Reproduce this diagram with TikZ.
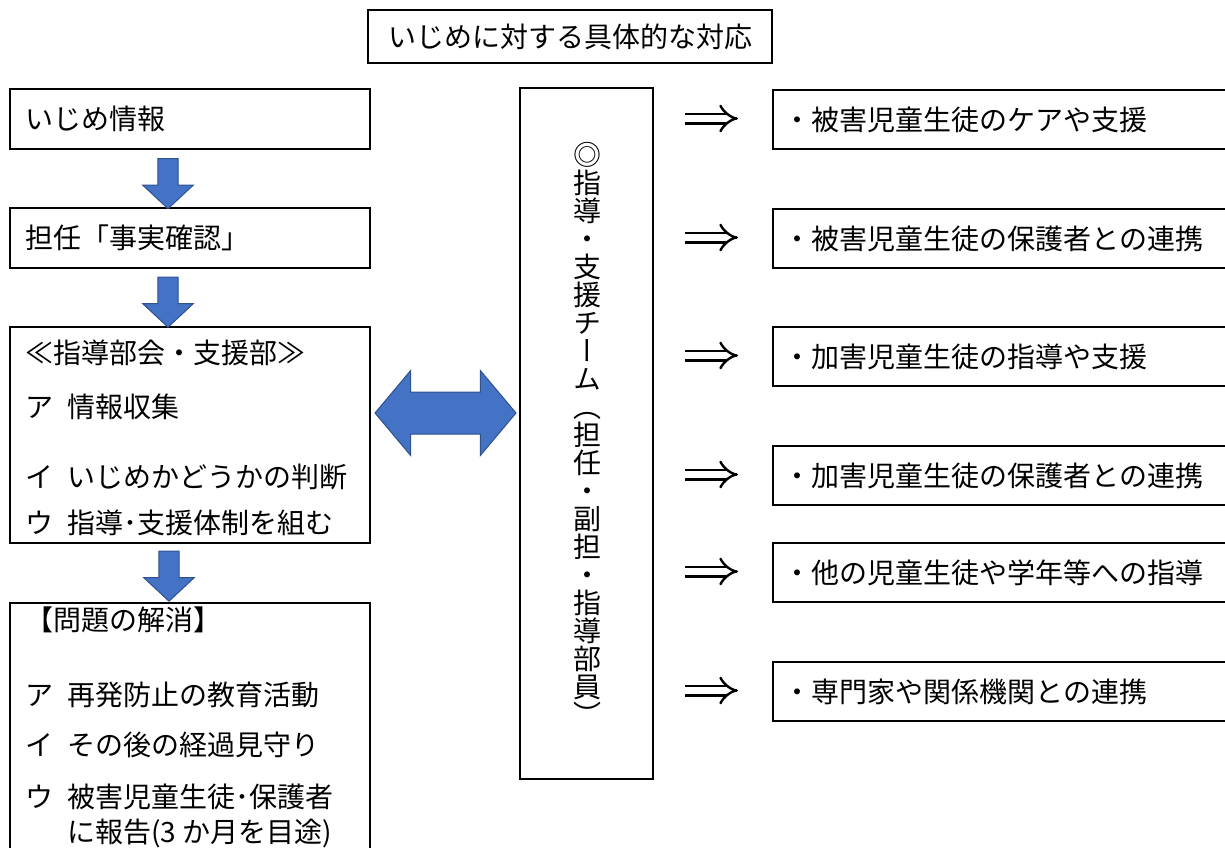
\documentclass[tikz,border=0pt]{standalone}
\usepackage{fontspec}
\setmainfont{Noto Sans CJK JP}
\newfontfamily\vertjp[RawFeature=+vert]{Noto Sans CJK JP}
\usepackage{tikz}
\usetikzlibrary{shapes,arrows,arrows.meta}
\usepackage{amsmath, amssymb}
\definecolor{blockblue}{HTML}{4472C4}
\definecolor{blockedge}{HTML}{2F528F}
\newcommand{\hsp}{\hspace{0.5em}}

\begin{document}
\begin{tikzpicture}[x=0.5pt,y=-0.5pt,>=stealth]
\tikzstyle{bx}=[draw,line width=0.9pt,inner xsep=8pt,inner ysep=0pt,align=left,text height=12.3pt,text depth=1.7pt,font=\fontsize{14}{17}\selectfont]
\tikzstyle{ln}=[anchor=west,inner sep=0pt,text height=12.3pt,text depth=1.7pt,font=\fontsize{14}{17}\selectfont]
\tikzstyle{vc}=[inner sep=0pt,text height=12.3pt,text depth=1.7pt,font=\vertjp\fontsize{14}{17}\selectfont]
\tikzstyle{da}=[single arrow,draw=blockedge,fill=blockblue,line width=0.5pt,rotate=-90,minimum height=25pt,inner xsep=0pt,inner ysep=4.8pt,single arrow head extend=7.6pt,single arrow tip angle=94]
\tikzstyle{imp}=[double,double distance=3.6pt,line width=1.2pt,-{Implies}]
\useasboundingbox (0,0) rectangle (1225,847);

% title
\node[bx,align=center,minimum width=202pt,minimum height=26.5pt] (title) at (570,36.5) {いじめに対する具体的な対応};

% left column
\node[bx,text width=164pt,minimum height=30pt,anchor=north west] (info) at (9,88) {いじめ情報};
\node[bx,text width=164pt,minimum height=30pt,anchor=north west] (check) at (9,207) {担任「事実確認」};
\node[bx,minimum width=180pt,minimum height=108pt,anchor=north west] (bukai) at (9,326) {};
\node[ln] (bk0) at (25,353) {≪指導部会・支援部≫};
\node[ln] (bk1) at (25,407) {ア\hsp 情報収集};
\node[ln] (bk2) at (25,477) {イ\hsp いじめかどうかの判断};
\node[ln] (bk3) at (25,523) {ウ\hsp 指導･支援体制を組む};
\node[bx,minimum width=180pt,minimum height=145pt,anchor=north west] (kaisho) at (9,602) {};
\node[ln] (ks0) at (25,620) {【問題の解消】};
\node[ln] (ks1) at (25,695) {ア\hsp 再発防止の教育活動};
\node[ln] (ks2) at (25,745) {イ\hsp その後の経過見守り};
\node[ln] (ks3) at (25,797) {ウ\hsp 被害児童生徒･保護者};
\node[ln] (ks4) at (67,832) {に報告(3 か月を目途)};

\node[da] (d1) at (168,179) {};
\node[da] (d2) at (168,297.5) {};
\node[da] (d3) at (169,571.5) {};

% team
\node[bx,line width=0.65pt,minimum width=66.5pt,minimum height=345.5pt] (team) at (586.5,433.5) {};
\foreach \c [count=\i from 0] in {◎,指,導,・,支,援,チ,ー,ム,（,担,任,・,副,担,・,指,導,部,員,）}
  \node[vc] (t\i) at (587,{155+28*\i}) {\c};

\node[double arrow,draw=blockedge,fill=blockblue,line width=0.5pt,minimum height=70.5pt,inner xsep=0pt,inner ysep=10.25pt,double arrow head extend=10.75pt,double arrow tip angle=100] (link) at (445.5,413) {};

% right column
\node[bx,inner xsep=5.5pt,text width=229pt,minimum height=29.5pt,anchor=north west] (r1) at (772,89) {・被害児童生徒のケアや支援};
\node[bx,inner xsep=5.5pt,text width=229pt,minimum height=29.5pt,anchor=north west] (r2) at (772,208) {・被害児童生徒の保護者との連携};
\node[bx,inner xsep=5.5pt,text width=229pt,minimum height=29.5pt,anchor=north west] (r3) at (772,326) {・加害児童生徒の指導や支援};
\node[bx,inner xsep=5.5pt,text width=229pt,minimum height=29.5pt,anchor=north west] (r4) at (772,445) {・加害児童生徒の保護者との連携};
\node[bx,inner xsep=5.5pt,text width=229pt,minimum height=29.5pt,anchor=north west] (r5) at (772,542) {・他の児童生徒や学年等への指導};
\node[bx,inner xsep=5.5pt,text width=229pt,minimum height=29.5pt,anchor=north west] (r6) at (772,661) {・専門家や関係機関との連携};

\coordinate (g1a) at (685,118.5); \coordinate (g1b) at (738,118.5);
\coordinate (g2a) at (685,237.5); \coordinate (g2b) at (738,237.5);
\coordinate (g3a) at (685,355.5); \coordinate (g3b) at (738,355.5);
\coordinate (g4a) at (685,474.5); \coordinate (g4b) at (738,474.5);
\coordinate (g5a) at (685,571.5); \coordinate (g5b) at (738,571.5);
\coordinate (g6a) at (685,690.5); \coordinate (g6b) at (738,690.5);
\draw[imp] (g1a) -- (g1b);
\draw[imp] (g2a) -- (g2b);
\draw[imp] (g3a) -- (g3b);
\draw[imp] (g4a) -- (g4b);
\draw[imp] (g5a) -- (g5b);
\draw[imp] (g6a) -- (g6b);
\end{tikzpicture}
\end{document}
